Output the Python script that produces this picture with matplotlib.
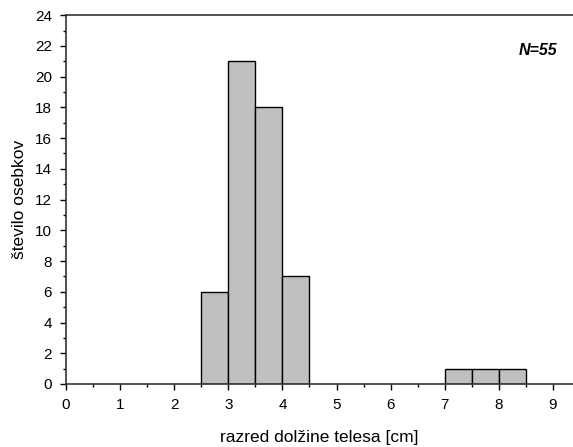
import matplotlib.pyplot as plt
from matplotlib.ticker import MultipleLocator

plt.rcParams['font.family'] = ['Liberation Sans', 'DejaVu Sans']

bin_left = [2.5, 3.0, 3.5, 4.0, 7.0, 7.5, 8.0]
counts = [6, 21, 18, 7, 1, 1, 1]
bin_width = 0.5

fig = plt.figure(figsize=(5.73, 4.47), dpi=100)
ax = fig.add_axes([0.1152, 0.141, 0.8848, 0.825])

ax.bar(bin_left, counts, width=bin_width, align='edge',
       color='#c0c0c0', edgecolor='black', linewidth=1.0, zorder=2)

ax.set_xlim(0, 9.37)
ax.set_ylim(0, 24)
ax.xaxis.set_major_locator(MultipleLocator(1))
ax.xaxis.set_minor_locator(MultipleLocator(0.5))
ax.yaxis.set_major_locator(MultipleLocator(2))
ax.yaxis.set_minor_locator(MultipleLocator(1))
ax.tick_params(which='major', direction='out', length=4, width=1, labelsize=11, pad=6)
ax.tick_params(which='minor', direction='out', length=2.5, width=1)
ax.spines['right'].set_visible(False)
for s in ['left', 'bottom', 'top']:
    ax.spines[s].set_color('#333333')
    ax.spines[s].set_linewidth(1.2)

ax.set_xlabel('razred dolžine telesa [cm]', fontsize=12.5, labelpad=13)
ax.set_ylabel('število osebkov', fontsize=12.5, labelpad=6)
ax.text(0.97, 0.905, 'N=55', transform=ax.transAxes, ha='right', va='center',
        fontsize=11.5, fontweight='bold', fontstyle='italic')

fig.savefig('out.png', dpi=100)
